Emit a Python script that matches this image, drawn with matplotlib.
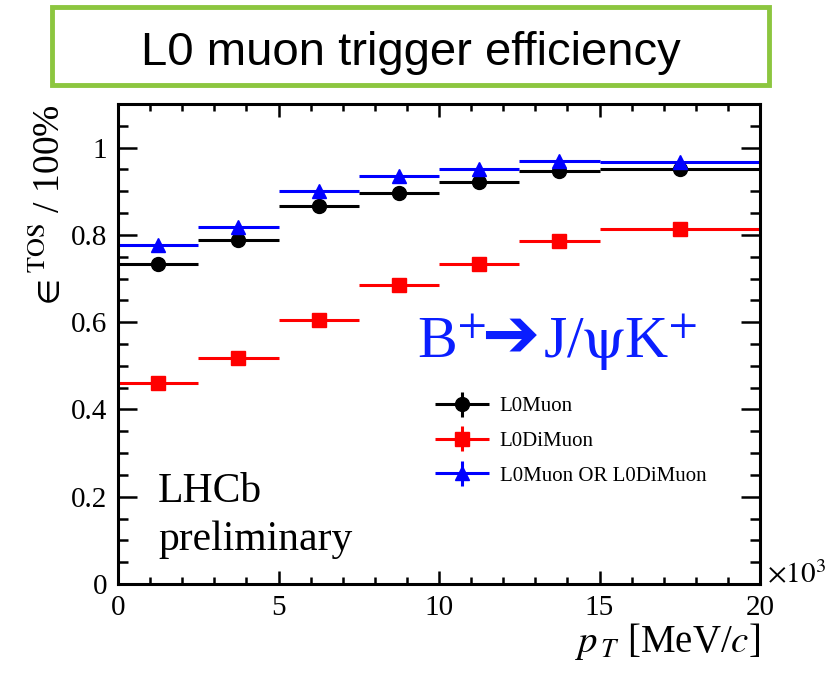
import matplotlib
matplotlib.use('Agg')
import matplotlib.pyplot as plt
import matplotlib.patches as patches
from matplotlib.container import ErrorbarContainer
from matplotlib.legend_handler import HandlerErrorbar
import numpy as np

"""L0 muon trigger efficiency vs pT for B+ -> J/psi K+"""

# bin edges in pT (x 10^3 MeV/c)
bin_edges = [0, 2.5, 5, 7.5, 10, 12.5, 15, 20]
eff_l0muon = [0.734, 0.789, 0.867, 0.895, 0.921, 0.947, 0.950]
eff_l0dimuon = [0.460, 0.519, 0.606, 0.686, 0.733, 0.785, 0.813]
eff_or = [0.776, 0.819, 0.900, 0.934, 0.952, 0.970, 0.968]

plt.rcParams['font.family'] = ['Liberation Serif', 'DejaVu Serif']
plt.rcParams['mathtext.fontset'] = 'stix'

edges = np.array(bin_edges)
centres = 0.5 * (edges[1:] + edges[:-1])
halfw = 0.5 * (edges[1:] - edges[:-1])
zero = np.zeros(len(centres))

fig = plt.figure(figsize=(8.33, 6.73), dpi=100)
ax = fig.add_axes([0.1417, 0.1322, 0.7707, 0.7132])

series = [(eff_l0muon, 'k', 'o', 10, 'L0Muon'),
          (eff_l0dimuon, '#ff0000', 's', 10, 'L0DiMuon'),
          (eff_or, '#0000ff', '^', 10, 'L0Muon OR L0DiMuon')]
for vals, col, mk, ms, lab in series:
    ax.errorbar(centres, vals, xerr=halfw, yerr=zero, fmt=mk, color=col,
                ms=ms, elinewidth=2.2, capsize=0, label=lab)

ax.set_xlim(0, 20)
ax.set_ylim(0, 1.1)
ax.set_xticks([0, 5, 10, 15, 20])
ax.set_xticks(np.arange(0, 21, 1), minor=True)
ax.set_yticks([0, 0.2, 0.4, 0.6, 0.8, 1.0])
ax.set_yticklabels(['0', '0.2', '0.4', '0.6', '0.8', '1'])
ax.set_yticks(np.arange(0, 1.1, 0.05), minor=True)
for sp in ax.spines.values():
    sp.set_linewidth(2.2)
ax.tick_params(which='both', direction='in', top=True, right=True,
               width=1.8, labelsize=21)
ax.tick_params(axis='x', which='major', length=9.5, pad=8)
ax.tick_params(axis='x', which='minor', length=5)
ax.tick_params(axis='y', which='major', length=14, pad=8)
ax.tick_params(axis='y', which='minor', length=7.5)

ax.set_xlabel(r'$p_{\,T}$ [MeV/$c$]', fontsize=28, loc='right', labelpad=0)
ax.set_ylabel(r'$\in^{\mathrm{TOS}}$ / 100%', fontsize=27, loc='top',
              labelpad=2)
fig.text(0.921, 0.133, r'$\times 10^{3}$', fontsize=21, ha='left',
         va='baseline')

leg = ax.legend(loc='upper left', bbox_to_anchor=(0.494, 0.39),
                frameon=False, fontsize=15, handlelength=2.6,
                handletextpad=0.5, labelspacing=0.72, borderpad=0,
                borderaxespad=0,
                handler_map={ErrorbarContainer:
                             HandlerErrorbar(xerr_size=1.3, yerr_size=0.6)})

ax.text(0.0623, 0.171, 'LHCb', transform=ax.transAxes, fontsize=30,
        va='baseline')
ax.text(0.0623, 0.071, 'preliminary', transform=ax.transAxes, fontsize=30,
        va='baseline')

# decay label
blue = '#0a1eff'
ax.text(9.31, 0.517, r'B$^{+}$', color=blue, fontsize=43, va='baseline')
ax.text(11.3, 0.522, '\u2794', color=blue, fontsize=50, va='baseline',
        family='DejaVu Sans')
ax.text(13.25, 0.517, r'J/$\mathrm{\psi}$K$^{+}$', color=blue,
        fontsize=43, va='baseline')

# title box
fig.patches.append(patches.Rectangle((0.062, 0.873), 0.861, 0.116,
                                     transform=fig.transFigure,
                                     fill=False, edgecolor='#8cc63f',
                                     linewidth=3.5))
fig.text(0.493, 0.9034, 'L0 muon trigger efficiency', fontsize=34,
         family='Liberation Sans', ha='center', va='baseline')

fig.savefig('out.png', dpi=100)
